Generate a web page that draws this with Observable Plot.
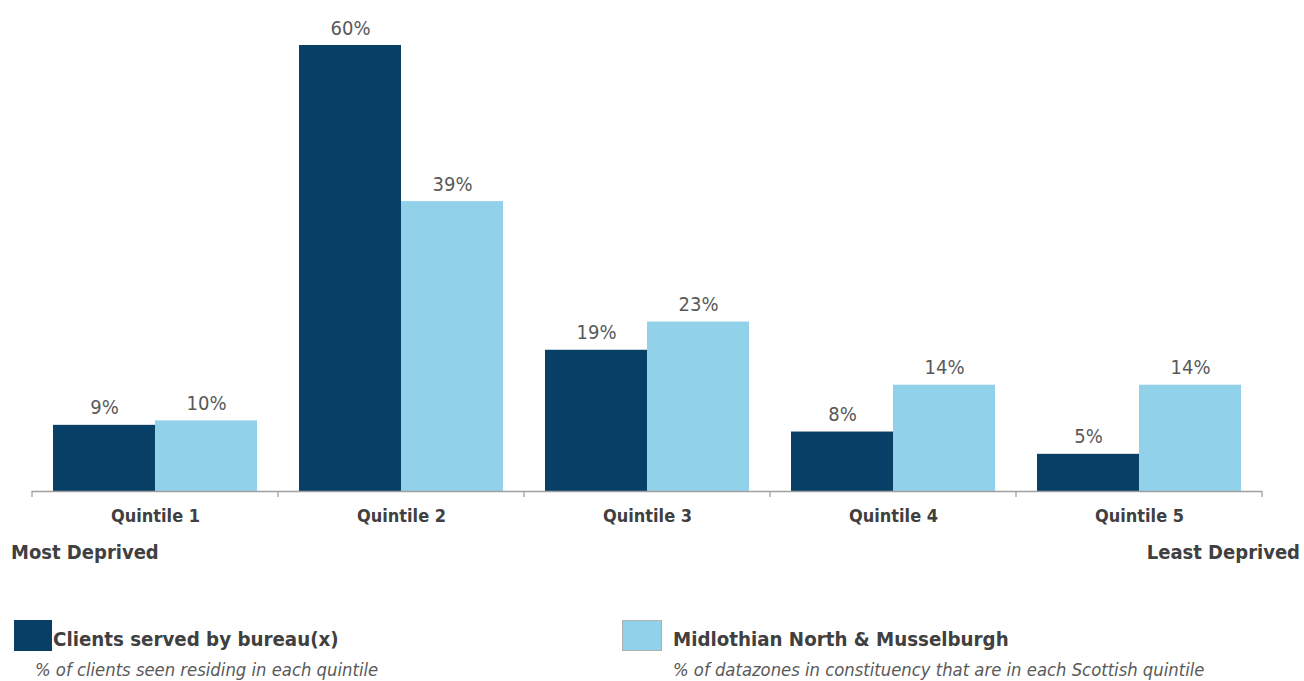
<!DOCTYPE html>
<html>
<head>
<meta charset="utf-8">
<script src="https://cdn.jsdelivr.net/npm/d3@7"></script>
<script src="https://cdn.jsdelivr.net/npm/@observablehq/plot@0.6"></script>
<style>
  html, body { margin: 0; padding: 0; background: #fff; }
  body { width: 1304px; height: 681px; position: relative; overflow: hidden;
         font-family: "DejaVu Sans Condensed", "DejaVu Sans", sans-serif; color: #404040; }
  #chart { position: absolute; left: 0; top: 0; }
  .ends { position: absolute; top: 540px; font-size: 20px; font-weight: bold; color: #404040; }
  .leg { position: absolute; top: 620px; }
  .sw { position: absolute; top: 0; width: 38px; height: 31px; }
  .lt { position: absolute; top: 7px; font-size: 20.3px; font-weight: bold; white-space: nowrap; color: #404040; }
  .ls { position: absolute; top: 39px; font-size: 18.3px; font-style: italic; white-space: nowrap; color: #595959; }
</style>
</head>
<body>
<div id="chart"></div>
<div class="ends" style="left:11px">Most Deprived</div>
<div class="ends" style="right:4px">Least Deprived</div>
<div class="leg" style="left:0px">
  <div class="sw" style="left:14px;background:#083f66"></div>
  <div class="lt" style="left:53px" id="l1"></div>
  <div class="ls" style="left:35px" id="s1"></div>
</div>
<div class="leg" style="left:622px">
  <div class="sw" style="left:0px;width:38px;height:29px;background:#92d1ea;border:1px solid #b0b0b0"></div>
  <div class="lt" style="left:51px" id="l2"></div>
  <div class="ls" style="left:51px" id="s2"></div>
</div>
<script>
const quintiles = ["Quintile 1", "Quintile 2", "Quintile 3", "Quintile 4", "Quintile 5"];
const seriesNames = ["Clients served by bureau(x)", "Midlothian North & Musselburgh"];
const seriesNotes = ["% of clients seen residing in each quintile", "% of datazones in constituency that are in each Scottish quintile"];
const clientsValues = [8.9, 60, 19, 8, 5];
const areaValues = [9.5, 39, 22.8, 14.3, 14.3];
const colors = ["#083f66", "#92d1ea"];

document.getElementById("l1").textContent = seriesNames[0];
document.getElementById("l2").textContent = seriesNames[1];
document.getElementById("s1").textContent = seriesNotes[0];
document.getElementById("s2").textContent = seriesNotes[1];

const data = [];
quintiles.forEach((q, i) => {
  data.push({quintile: q, series: seriesNames[0], value: clientsValues[i]});
  data.push({quintile: q, series: seriesNames[1], value: areaValues[i]});
});

const chart = Plot.plot({
  width: 1304,
  height: 530,
  marginLeft: 31,
  marginRight: 42,
  marginTop: 45,
  marginBottom: 39,
  style: {fontFamily: "'DejaVu Sans Condensed', 'DejaVu Sans', sans-serif", background: "transparent"},
  fx: {domain: quintiles, paddingInner: 0, paddingOuter: 0, label: null},
  x: {domain: seriesNames, paddingInner: 0, paddingOuter: 0.2, axis: null},
  y: {domain: [0, 60], axis: null},
  color: {domain: seriesNames, range: colors},
  marks: [
    Plot.barY(data, {fx: "quintile", x: "series", y: "value", fill: "series", inset: 0}),
    Plot.text(data, {fx: "quintile", x: "series", y: "value", text: d => Math.round(d.value) + "%",
      lineAnchor: "bottom", dy: -11, fontSize: 20, fill: "#595959"}),
    Plot.ruleY([0], {stroke: "#a0a0a0", strokeWidth: 1.3}),
    Plot.axisFx({anchor: "bottom", tickSize: 0, tickPadding: 18, fontSize: 18, fontWeight: "bold", fill: "#404040", label: null})
  ]
});
document.getElementById("chart").appendChild(chart);

// tick marks at category boundaries, placed with the fx scale
const fx = chart.scale("fx");
const y = chart.scale("y");
const svg = d3.select(chart);
const y0 = y.apply(0);
const edges = quintiles.map(q => fx.apply(q)).concat([fx.apply(quintiles[quintiles.length - 1]) + fx.bandwidth]);
svg.append("g").selectAll("line").data(edges).join("line")
  .attr("x1", d => d).attr("x2", d => d)
  .attr("y1", y0).attr("y2", y0 + 6)
  .attr("stroke", "#a0a0a0").attr("stroke-width", 1.3);
</script>
</body>
</html>
